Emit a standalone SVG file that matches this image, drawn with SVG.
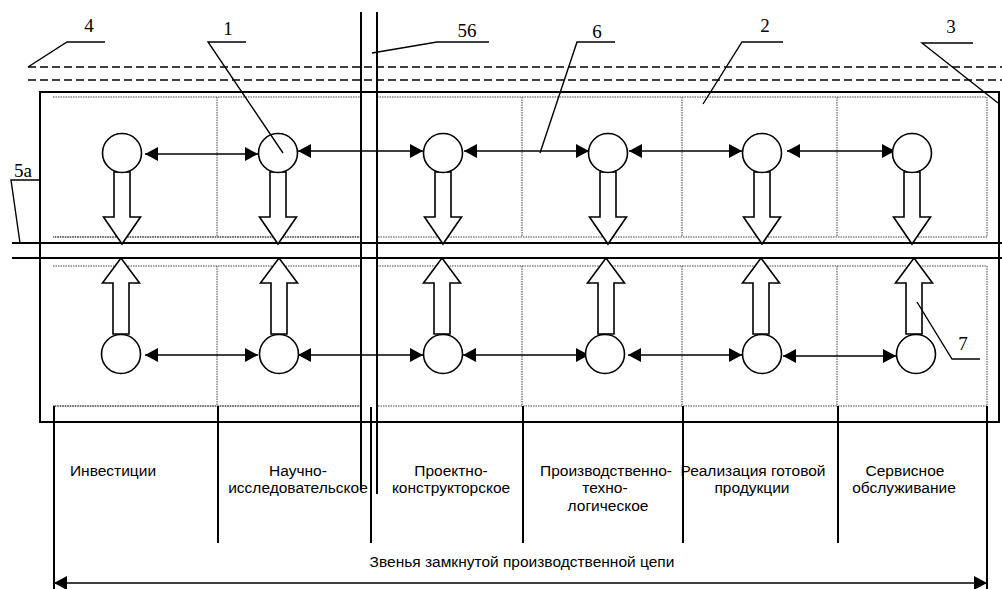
<svg xmlns="http://www.w3.org/2000/svg" xmlns:xlink="http://www.w3.org/1999/xlink" width="1002" height="589" viewBox="0 0 1002 589">
<style>
.bg{fill:#fff}
.solid{stroke:#000;stroke-width:2;fill:none}
.thin{stroke:#000;stroke-width:1.5;fill:none}
.dash{stroke:#000;stroke-width:1.5;fill:none;stroke-dasharray:8 4}
.dot{stroke:#444;stroke-width:1;fill:none;stroke-dasharray:1.5 1}
.node{fill:#fff;stroke:#000;stroke-width:1.6}
.harrow{fill:#fff;stroke:#000;stroke-width:1.6;stroke-linejoin:miter}
.conn{stroke:#000;stroke-width:1.5;fill:none;marker-start:url(#ah);marker-end:url(#ah)}
.num{font-family:"Liberation Serif","Times New Roman",serif;font-size:19px;fill:#000;text-anchor:middle}
.lbl{font-family:"Liberation Sans",Arial,sans-serif;font-size:15.5px;fill:#000;text-anchor:middle}
.lead{stroke:#000;stroke-width:1.4;fill:none}
</style>
<defs>
<marker id="ah" viewBox="0 0 13 14" refX="13" refY="7" markerWidth="13" markerHeight="14" markerUnits="userSpaceOnUse" orient="auto-start-reverse">
<path d="M0,0 L13,7 L0,14 Z" fill="#000"/>
</marker>
<path id="down" d="M-8,0 L-8,45 L-18.5,45 L0,72 L18.5,45 L8,45 L8,0 Z"/>
<path id="up" d="M-8,0 L-8,-51 L-18.5,-51 L0,-76 L18.5,-51 L8,-51 L8,0 Z"/>
</defs>
<rect class="bg" x="0" y="0" width="1002" height="589"/>

<g id="frame">
<line class="dash" x1="28" y1="67" x2="1002" y2="67"/>
<line class="dash" x1="28" y1="80" x2="1002" y2="80"/>
<rect class="solid" x="40" y="92" width="959" height="330"/>
<path class="dot" d="M53,97 H361 M377,97 H987 V237 H377 M361,237 H53 Z"/>
<path class="dot" d="M53,266 H361 M377,266 H987 V406 H377 M361,406 H53 Z"/>
<path class="dot" d="M217,97 V237 M522,97 V237 M682,97 V237 M837,97 V237"/>
<path class="dot" d="M217,266 V406 M522,266 V406 M682,266 V406 M837,266 V406"/>
<line class="solid" x1="12" y1="243" x2="1002" y2="243"/>
<line class="solid" x1="12" y1="258" x2="1002" y2="258"/>
<line class="solid" x1="361" y1="12" x2="361" y2="490"/>
<line class="solid" x1="377" y1="12" x2="377" y2="494"/>
<path class="solid" d="M54,406 V589 M218,406 V543 M371,407 V543 M523,406 V543 M683,406 V543 M838,406 V543 M987,406 V589"/>
</g>

<g id="connectors">
<line class="conn" x1="145" y1="154" x2="258" y2="154"/>
<line class="conn" x1="298" y1="151" x2="423" y2="151"/>
<line class="conn" x1="464" y1="151" x2="589" y2="151"/>
<line class="conn" x1="629" y1="151" x2="742" y2="151"/>
<line class="conn" x1="787" y1="151" x2="895" y2="151"/>
<line class="conn" x1="145" y1="355" x2="258" y2="355"/>
<line class="conn" x1="298" y1="355" x2="423" y2="355"/>
<line class="conn" x1="463" y1="355" x2="589" y2="355"/>
<line class="conn" x1="628" y1="355" x2="742" y2="355"/>
<line class="conn" x1="783" y1="356" x2="896" y2="356"/>
<use href="#down" xlink:href="#down" class="harrow" x="122" y="172"/>
<use href="#down" xlink:href="#down" class="harrow" x="278" y="172"/>
<use href="#down" xlink:href="#down" class="harrow" x="443" y="172"/>
<use href="#down" xlink:href="#down" class="harrow" x="608" y="172"/>
<use href="#down" xlink:href="#down" class="harrow" x="762" y="172"/>
<use href="#down" xlink:href="#down" class="harrow" x="912" y="172"/>
<use href="#up" xlink:href="#up" class="harrow" x="121" y="334"/>
<use href="#up" xlink:href="#up" class="harrow" x="279" y="334"/>
<use href="#up" xlink:href="#up" class="harrow" x="442" y="334"/>
<use href="#up" xlink:href="#up" class="harrow" x="606" y="334"/>
<use href="#up" xlink:href="#up" class="harrow" x="761" y="334"/>
<use href="#up" xlink:href="#up" class="harrow" x="914" y="334"/>
<line class="conn" x1="54" y1="583" x2="987" y2="583"/>
</g>

<g id="n1"><circle class="node" cx="122" cy="153" r="19.5"/></g>
<g id="n2"><circle class="node" cx="278" cy="153" r="19.5"/></g>
<g id="n3"><circle class="node" cx="443" cy="153" r="19.5"/></g>
<g id="n4"><circle class="node" cx="608" cy="153" r="19.5"/></g>
<g id="n5"><circle class="node" cx="762" cy="153" r="19.5"/></g>
<g id="n6"><circle class="node" cx="912" cy="153" r="19.5"/></g>
<g id="m1"><circle class="node" cx="121" cy="354" r="19.5"/></g>
<g id="m2"><circle class="node" cx="279" cy="354" r="19.5"/></g>
<g id="m3"><circle class="node" cx="443" cy="354" r="19.5"/></g>
<g id="m4"><circle class="node" cx="605" cy="354" r="19.5"/></g>
<g id="m5"><circle class="node" cx="762" cy="354" r="19.5"/></g>
<g id="m6"><circle class="node" cx="916" cy="354" r="19.5"/></g>

<g id="callouts">
<path class="lead" d="M28,67 L67,42 H105"/>
<text class="num" x="89" y="32">4</text>
<path class="lead" d="M283,153 L208,42 H246"/>
<text class="num" x="228" y="35">1</text>
<path class="lead" d="M372,53 L437,42 H489"/>
<text class="num" x="467" y="37">56</text>
<path class="lead" d="M540,153 L577,42 H615"/>
<text class="num" x="597" y="38">6</text>
<path class="lead" d="M703,104 L742,42 H783"/>
<text class="num" x="765" y="32">2</text>
<path class="lead" d="M998,103 L922,43 H973"/>
<text class="num" x="951" y="33">3</text>
<path class="lead" d="M20,243 L11,180 H40"/>
<text class="num" x="23" y="177">5a</text>
<path class="lead" d="M917,302 L952,359 H980"/>
<text class="num" x="963" y="350">7</text>
</g>

<g id="labels">
<text class="lbl" x="113" y="476">Инвестиции</text>
<text class="lbl" x="298" y="476">Научно-</text>
<text class="lbl" x="298" y="493">исследовательское</text>
<text class="lbl" x="451" y="476">Проектно-</text>
<text class="lbl" x="451" y="493">конструкторское</text>
<text class="lbl" x="606" y="476">Производственно-</text>
<text class="lbl" x="605" y="493">техно-</text>
<text class="lbl" x="608" y="511">логическое</text>
<text class="lbl" x="753" y="476">Реализация готовой</text>
<text class="lbl" x="752" y="493">продукции</text>
<text class="lbl" x="905" y="476">Сервисное</text>
<text class="lbl" x="904" y="493">обслуживание</text>
<text class="lbl" x="522" y="567">Звенья замкнутой производственной цепи</text>
</g>
</svg>
